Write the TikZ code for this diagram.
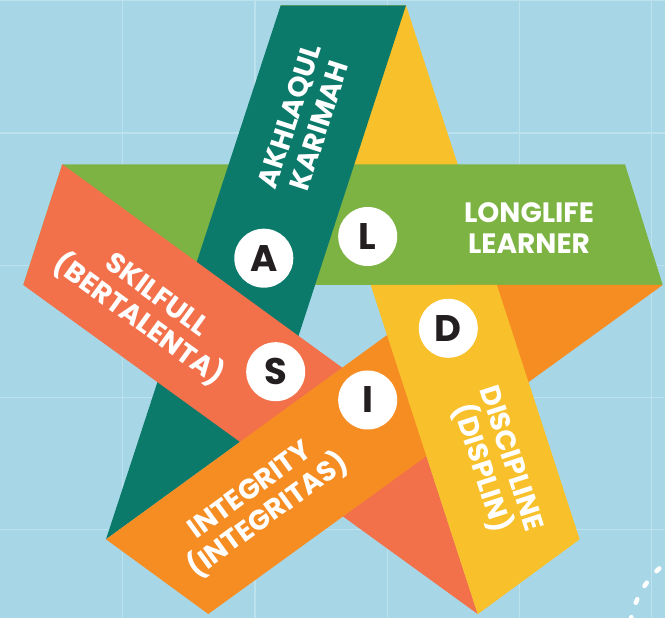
\documentclass[tikz,border=0pt]{standalone}
\usepackage{fontspec}
\setmainfont{Poppins}
\usepackage{tikz}

\definecolor{sky}{HTML}{A7D7E7}
\definecolor{skyline}{HTML}{BCE2EE}
\definecolor{akhlaq}{HTML}{0B7A6B}
\definecolor{discip}{HTML}{F8C12B}
\definecolor{longlife}{HTML}{7CB342}
\definecolor{skill}{HTML}{F2704A}
\definecolor{integ}{HTML}{F58D23}
\definecolor{ink}{HTML}{231F20}

\begin{document}
\begin{tikzpicture}
  [x=1pt,y=1pt,
   gridline/.style={skyline,line width=1.2pt},
   label/.style={text=white,align=center,font=\bfseries\fontsize{28}{31}\selectfont},
   badge/.style={circle,fill=white,inner sep=0pt,minimum size=59pt,text=ink,font=\bfseries\fontsize{37}{37}\selectfont}]
  \fill[sky] (0,0) rectangle (665,618);
  \useasboundingbox (0,0) rectangle (665,618);
  \clip (0,0) rectangle (665,618);

  \foreach \x in {122.7,254.9,387.1,519.3,651.5}
    \draw[gridline] (\x,0) -- (\x,618);
  \foreach \y in {88.4,220.6,352.8,485,617.2}
    \draw[gridline] (0,\y) -- (665,\y);

  \coordinate (ak1) at (280.7,612.7);
  \coordinate (ak2) at (406,612.7);
  \coordinate (ak3) at (271.5,198.9);
  \coordinate (ak4) at (106,78.7);

  \coordinate (di1) at (280.3,612.7);
  \coordinate (di2) at (406,612.7);
  \coordinate (di3) at (579.5,78.7);
  \coordinate (di4) at (477.7,4);
  \coordinate (di5) at (370.8,333);
  \coordinate (di6) at (496.9,333);

  \coordinate (ll1) at (62.3,453.7);
  \coordinate (ll2) at (625,453.7);
  \coordinate (ll3) at (662.7,333);
  \coordinate (ll4) at (23.3,333);

  \coordinate (sk1) at (62.3,453.7);
  \coordinate (sk2) at (23.3,333);
  \coordinate (sk3) at (477.7,4);
  \coordinate (sk4) at (414.8,197.6);

  \coordinate (in1) at (106,78.7);
  \coordinate (in2) at (208.3,4);
  \coordinate (in3) at (662.7,333);
  \coordinate (in4) at (456,333);

  \fill[discip] (di1) -- (di2) -- (di3) -- (di4) -- cycle;
  \fill[longlife] (ll1) -- (ll2) -- (ll3) -- (ll4) -- cycle;
  \fill[akhlaq] (ak1) -- (ak2) -- (ak3) -- (ak4) -- cycle;
  \fill[skill] (sk1) -- (sk2) -- (sk3) -- (sk4) -- cycle;
  \fill[integ] (in1) -- (in2) -- (in3) -- (in4) -- cycle;
  \fill[discip] (di5) -- (di6) -- (di3) -- (di4) -- cycle;

  \node[label,rotate=72] (akhlaqtext) at (304,497) {AKHLAQUL\\KARIMAH};
  \node[label] (longtext) at (529,390) {LONGLIFE\\LEARNER};
  \node[label,rotate=-36] (skilltext) at (147,309) {SKILFULL\\(BERTALENTA)};
  \node[label,rotate=36] (integtext) at (260,114) {INTEGRITY\\(INTEGRITAS)};
  \node[label,rotate=-72] (disctext) at (495,154) {DISCIPLINE\\(DISPLIN)};

  \node[badge] (a) at (263.8,359.8) {A};
  \node[badge] (l) at (367.7,381.5) {L};
  \node[badge] (d) at (448.3,289.7) {D};
  \node[badge] (s) at (275.7,246.3) {S};
  \node[badge] (i) at (367.7,218) {I};

  \draw[white,line width=4.5pt,line cap=round,dash pattern=on 4pt off 15pt]
    (724,-20) ++(110:95) arc[start angle=110,end angle=200,radius=95];
\end{tikzpicture}
\end{document}
